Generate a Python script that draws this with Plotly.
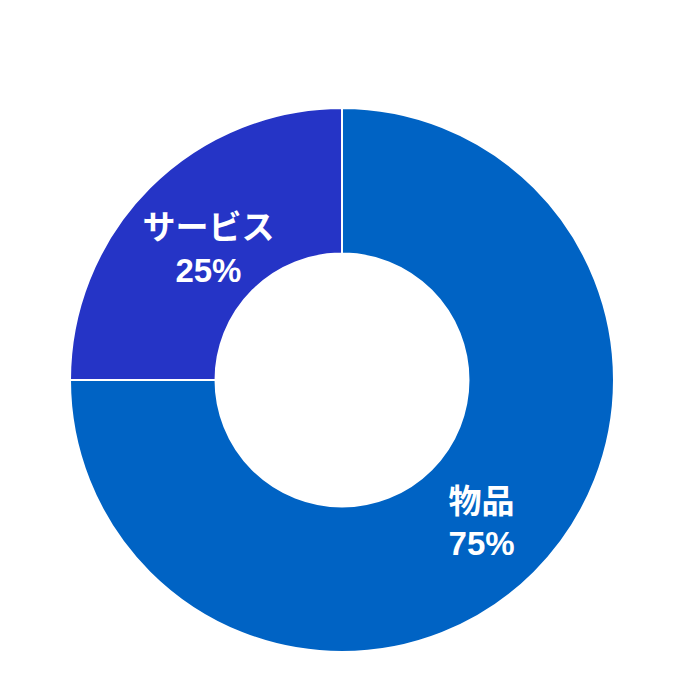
import plotly.graph_objects as go

# category labels and shares (percent)
labels = ["物品", "サービス"]
values = [75, 25]
colors = ["#0063c4", "#2534c6"]

W = H = 684


def dom(left, top, size):
    # pixel box -> paper domain (y measured from the top of the figure)
    return dict(x=[left / W, (left + size) / W],
                y=[(H - top - size) / H, (H - top) / H])


fig = go.Figure()

# the coloured ring
fig.add_trace(go.Pie(labels=labels, values=values, hole=0.465,
                     direction="clockwise", sort=False,
                     domain=dom(62, 100, 544),
                     marker=dict(colors=colors, line=dict(color="white", width=2)),
                     textinfo="none", showlegend=False))

# same data again, transparent, only to carry the labels (a thinner hole gives
# the labels room so plotly doesn't shrink them; nudged a few px for the font box)
fig.add_trace(go.Pie(labels=labels, values=values, hole=0.42,
                     direction="clockwise", sort=False,
                     domain=dom(65, 106, 544),
                     marker=dict(colors=["rgba(0,0,0,0)"] * len(labels),
                                 line=dict(width=0)),
                     textinfo="label+percent", textposition="inside",
                     insidetextorientation="horizontal",
                     textfont=dict(family="Liberation Sans, Noto Sans CJK JP, sans-serif",
                                   size=33, color="white", weight="bold"),
                     hoverinfo="skip", showlegend=False))

fig.update_layout(width=W, height=H,
                  margin=dict(l=0, r=0, t=0, b=0),
                  paper_bgcolor="white", plot_bgcolor="white")

fig.write_html("out.html")
